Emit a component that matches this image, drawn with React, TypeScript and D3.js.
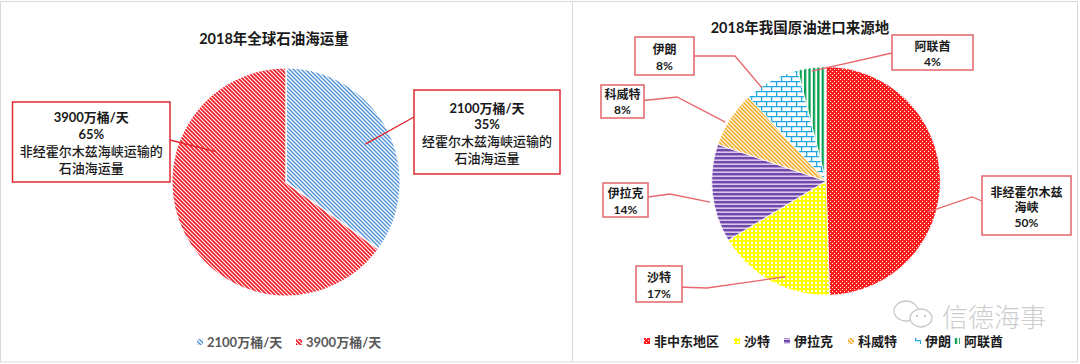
import React from "react";
import * as d3 from "d3";

// ---------- data ----------
const leftTitle = "2018年全球石油海运量";
const leftCategories = ["2100万桶/天", "3900万桶/天"];
const leftValues = [2100, 3900];
const leftDescriptions = [
  ["经霍尔木兹海峡运输的", "石油海运量"],
  ["非经霍尔木兹海峡运输的", "石油海运量"],
];

const rightTitle = "2018年我国原油进口来源地";
const rightCategories = ["非中东地区", "沙特", "伊拉克", "科威特", "伊朗", "阿联酋"];
const rightValues = [50, 17, 14, 8, 8, 4];
const rightLabelNames = [["非经霍尔木兹", "海峡"], ["沙特"], ["伊拉克"], ["科威特"], ["伊朗"], ["阿联酋"]];

const watermarkText = "信德海事";

// ---------- layout / style ----------
const W = 1080;
const H = 364;
const FONT = "Lato, 'Noto Sans CJK SC', sans-serif";

const leftPie = { cx: 286, cy: 182, r: 114.3 };
const rightPie = { cx: 826, cy: 181, r: 114.3 };

const leftFills = ["url(#pBlue)", "url(#pRed)"];
const rightFills = ["url(#pDots)", "url(#pYellow)", "url(#pPurple)", "url(#pGold)", "url(#pBrick)", "url(#pGreen)"];

type Box = { x: number; y: number; w: number; h: number };
type LabelLayout = { box: Box; ys: number[]; leader: number[][]; end: { a: number; f: number } };

const leftLabelLayout: LabelLayout[] = [
  { box: { x: 414, y: 90, w: 146, h: 84 }, ys: [108, 124, 141, 158], leader: [[414, 117]], end: { a: 64.5, f: 0.77 } },
  { box: { x: 12.5, y: 102, w: 157.5, h: 80 }, ys: [117, 133.5, 151, 168], leader: [[170, 140]], end: { a: 293.3, f: 0.67 } },
];

const rightLabelLayout: LabelLayout[] = [
  { box: { x: 982, y: 176, w: 89, h: 59 }, ys: [192, 207, 222], leader: [[982, 201], [972, 197]], end: { a: 107, f: 0.93 } },
  { box: { x: 636, y: 266, w: 46, h: 36 }, ys: [277, 293], leader: [[677, 287], [707, 288]], end: { a: 203, f: 0.91 } },
  { box: { x: 603, y: 183, w: 45, h: 34 }, ys: [193, 209], leader: [[648, 197], [670, 194]], end: { a: 259.7, f: 1.03 } },
  { box: { x: 601, y: 85, w: 43, h: 33 }, ys: [94.5, 109.5], leader: [[644, 100.5], [677, 97]], end: { a: 300.3, f: 1.02 } },
  { box: { x: 635, y: 37, w: 59, h: 38 }, ys: [49, 65], leader: [[683, 56], [735, 56]], end: { a: 325.5, f: 0.99 } },
  { box: { x: 892, y: 35, w: 81, h: 35 }, ys: [46, 61], leader: [[892, 53]], end: { a: 352.7, f: 0.97 } },
];

const leftLegendX = [197, 296];
const rightLegendX = [644, 734, 784, 848, 915, 954];

function polar(p: { cx: number; cy: number; r: number }, a: number, f: number) {
  const t = (a * Math.PI) / 180;
  return [p.cx + f * p.r * Math.sin(t), p.cy - f * p.r * Math.cos(t)];
}

function Patterns() {
  return (
    <defs>
      <pattern id="pBlue" patternUnits="userSpaceOnUse" width="4" height="4">
        <rect width="4" height="4" fill="#fff" />
        <path d="M-1,-1 L5,5 M-1,3 L1,5 M3,-1 L5,1" stroke="#5494d6" strokeWidth="1.5" />
      </pattern>
      <pattern id="pRed" patternUnits="userSpaceOnUse" width="4" height="4">
        <rect width="4" height="4" fill="#fff" />
        <path d="M-1,-1 L5,5 M-1,3 L1,5 M3,-1 L5,1" stroke="#f0222c" strokeWidth="1.8" />
      </pattern>
      <pattern id="pDots" patternUnits="userSpaceOnUse" width="4" height="4">
        <rect width="4" height="4" fill="#ff1c1c" />
        <rect x="0" y="0" width="1" height="1" fill="#fff" />
        <rect x="2" y="2" width="1" height="1" fill="#fff" />
      </pattern>
      <pattern id="pYellow" patternUnits="userSpaceOnUse" width="4" height="4">
        <rect width="4" height="4" fill="#ffff00" />
        <rect x="1" y="1" width="2" height="2" fill="#fff" />
      </pattern>
      <pattern id="pPurple" patternUnits="userSpaceOnUse" width="4" height="4">
        <rect width="4" height="4" fill="#d6c8ec" />
        <rect width="4" height="2.4" fill="#7248ad" />
      </pattern>
      <pattern id="pGold" patternUnits="userSpaceOnUse" width="4" height="4">
        <rect width="4" height="4" fill="#fff" />
        <path d="M-1,-1 L5,5 M-1,3 L1,5 M3,-1 L5,1" stroke="#f2ad2a" strokeWidth="1.6" />
      </pattern>
      <pattern id="pBrick" patternUnits="userSpaceOnUse" width="10" height="10">
        <rect width="10" height="10" fill="#fff" />
        <path d="M0,0.6 H10 M0,5.6 H10 M0.6,0.6 V5.6 M5.6,5.6 V10.6" stroke="#1fa8e2" strokeWidth="1.3" />
      </pattern>
      <pattern id="pGreen" patternUnits="userSpaceOnUse" width="4.4" height="4">
        <rect width="4.4" height="4" fill="#fff" />
        <rect width="2.3" height="4" fill="#05a04f" />
      </pattern>
    </defs>
  );
}

function PieGroup({ p, values, fills, stroke }: { p: { cx: number; cy: number; r: number }; values: number[]; fills: string[]; stroke: number }) {
  const arcs = d3.pie<number>().sort(null).value((d) => d)(values);
  const arcGen = d3.arc<d3.PieArcDatum<number>>().innerRadius(0).outerRadius(p.r);
  return (
    <g transform={`translate(${p.cx},${p.cy})`}>
      {arcs.map((a, i) => (
        <path key={i} d={arcGen(a) || ""} fill={fills[i]} stroke="#fff" strokeWidth={stroke} />
      ))}
    </g>
  );
}

function LabelBox({ lay, p, lines, color, lineColor, fs }: { lay: LabelLayout; p: any; lines: { t: string; bold: boolean }[]; color: string; lineColor: string; fs: number }) {
  const end = polar(p, lay.end.a, lay.end.f);
  const pts = [...lay.leader, end];
  const line = d3.line()(pts as [number, number][]) || "";
  const cx = lay.box.x + lay.box.w / 2;
  return (
    <g>
      <path d={line} fill="none" stroke={lineColor} strokeWidth={1.3} />
      <rect x={lay.box.x} y={lay.box.y} width={lay.box.w} height={lay.box.h} fill="#fff" stroke={color} strokeWidth={1.5} />
      {lines.map((l, i) => (
        <text key={i} x={cx} y={lay.ys[i]} textAnchor="middle" dominantBaseline="central" fontSize={fs} fontFamily={FONT} fontWeight={l.bold ? 700 : 500} fill="#1a1a1a">
          {l.t}
        </text>
      ))}
    </g>
  );
}

export default function App() {
  const leftSum = d3.sum(leftValues);
  const pct = d3.format(".0%");
  return (
    <div style={{ position: "absolute", left: 0, top: 0 }}>
      <svg width={W} height={H} style={{ display: "block", background: "#fff" }}>
        <Patterns />
        <rect x={0} y={0} width={W} height={H} fill="#fff" />
        <rect x={0.5} y={1.5} width={572} height={360.5} fill="#fff" stroke="#d9d9d9" />
        <rect x={572.5} y={1.5} width={505} height={360.5} fill="#fff" stroke="#d9d9d9" />

        {/* LEFT */}
        <text x={274} y={38} textAnchor="middle" dominantBaseline="central" fontSize={14.5} fontWeight={700} fontFamily={FONT} fill="#1a1a1a">
          {leftTitle}
        </text>
        <PieGroup p={leftPie} values={leftValues} fills={leftFills} stroke={1.5} />
        {leftValues.map((v, i) => (
          <LabelBox
            key={i}
            lay={leftLabelLayout[i]}
            p={leftPie}
            color="#de2a2f"
            lineColor="#e0262c"
            fs={13}
            lines={[
              { t: leftCategories[i], bold: true },
              { t: pct(v / leftSum), bold: true },
              ...leftDescriptions[i].map((t) => ({ t, bold: false })),
            ]}
          />
        ))}
        {leftCategories.map((c, i) => (
          <g key={i}>
            <rect x={leftLegendX[i]} y={339} width={6} height={6} fill={leftFills[i]} />
            <text x={leftLegendX[i] + 10} y={342} dominantBaseline="central" fontSize={13} fontWeight={700} fontFamily={FONT} fill="#595959">
              {c}
            </text>
          </g>
        ))}

        {/* RIGHT */}
        <text x={800} y={27} textAnchor="middle" dominantBaseline="central" fontSize={14.5} fontWeight={700} fontFamily={FONT} fill="#1a1a1a">
          {rightTitle}
        </text>
        <PieGroup p={rightPie} values={rightValues} fills={rightFills} stroke={0.8} />
        {rightValues.map((v, i) => (
          <LabelBox
            key={i}
            lay={rightLabelLayout[i]}
            p={rightPie}
            color="#e3646b"
            lineColor="#e8686e"
            fs={12}
            lines={[...rightLabelNames[i].map((t) => ({ t, bold: true })), { t: `${v}%`, bold: true }]}
          />
        ))}

        {/* watermark */}
        <g opacity={0.9}>
          <ellipse cx={906} cy={311} rx={12} ry={10} fill="#fff" stroke="#c4c4c4" strokeWidth={1.3} />
          <ellipse cx={921} cy={318} rx={11} ry={9} fill="#fff" stroke="#c4c4c4" strokeWidth={1.3} />
          <circle cx={917} cy={316} r={1.2} fill="#c4c4c4" />
          <circle cx={925} cy={316} r={1.2} fill="#c4c4c4" />
          <text x={942} y={315} dominantBaseline="central" fontSize={26} fontWeight={300} fontFamily="'Noto Sans CJK SC', sans-serif" fill="#c8c8c8">
            {watermarkText}
          </text>
        </g>

        {rightCategories.map((c, i) => (
          <g key={i}>
            <rect x={rightLegendX[i]} y={338} width={6} height={6} fill={rightFills[i]} />
            <text x={rightLegendX[i] + 10} y={341} dominantBaseline="central" fontSize={13} fontWeight={700} fontFamily={FONT} fill="#1a1a1a">
              {c}
            </text>
          </g>
        ))}
      </svg>
    </div>
  );
}
